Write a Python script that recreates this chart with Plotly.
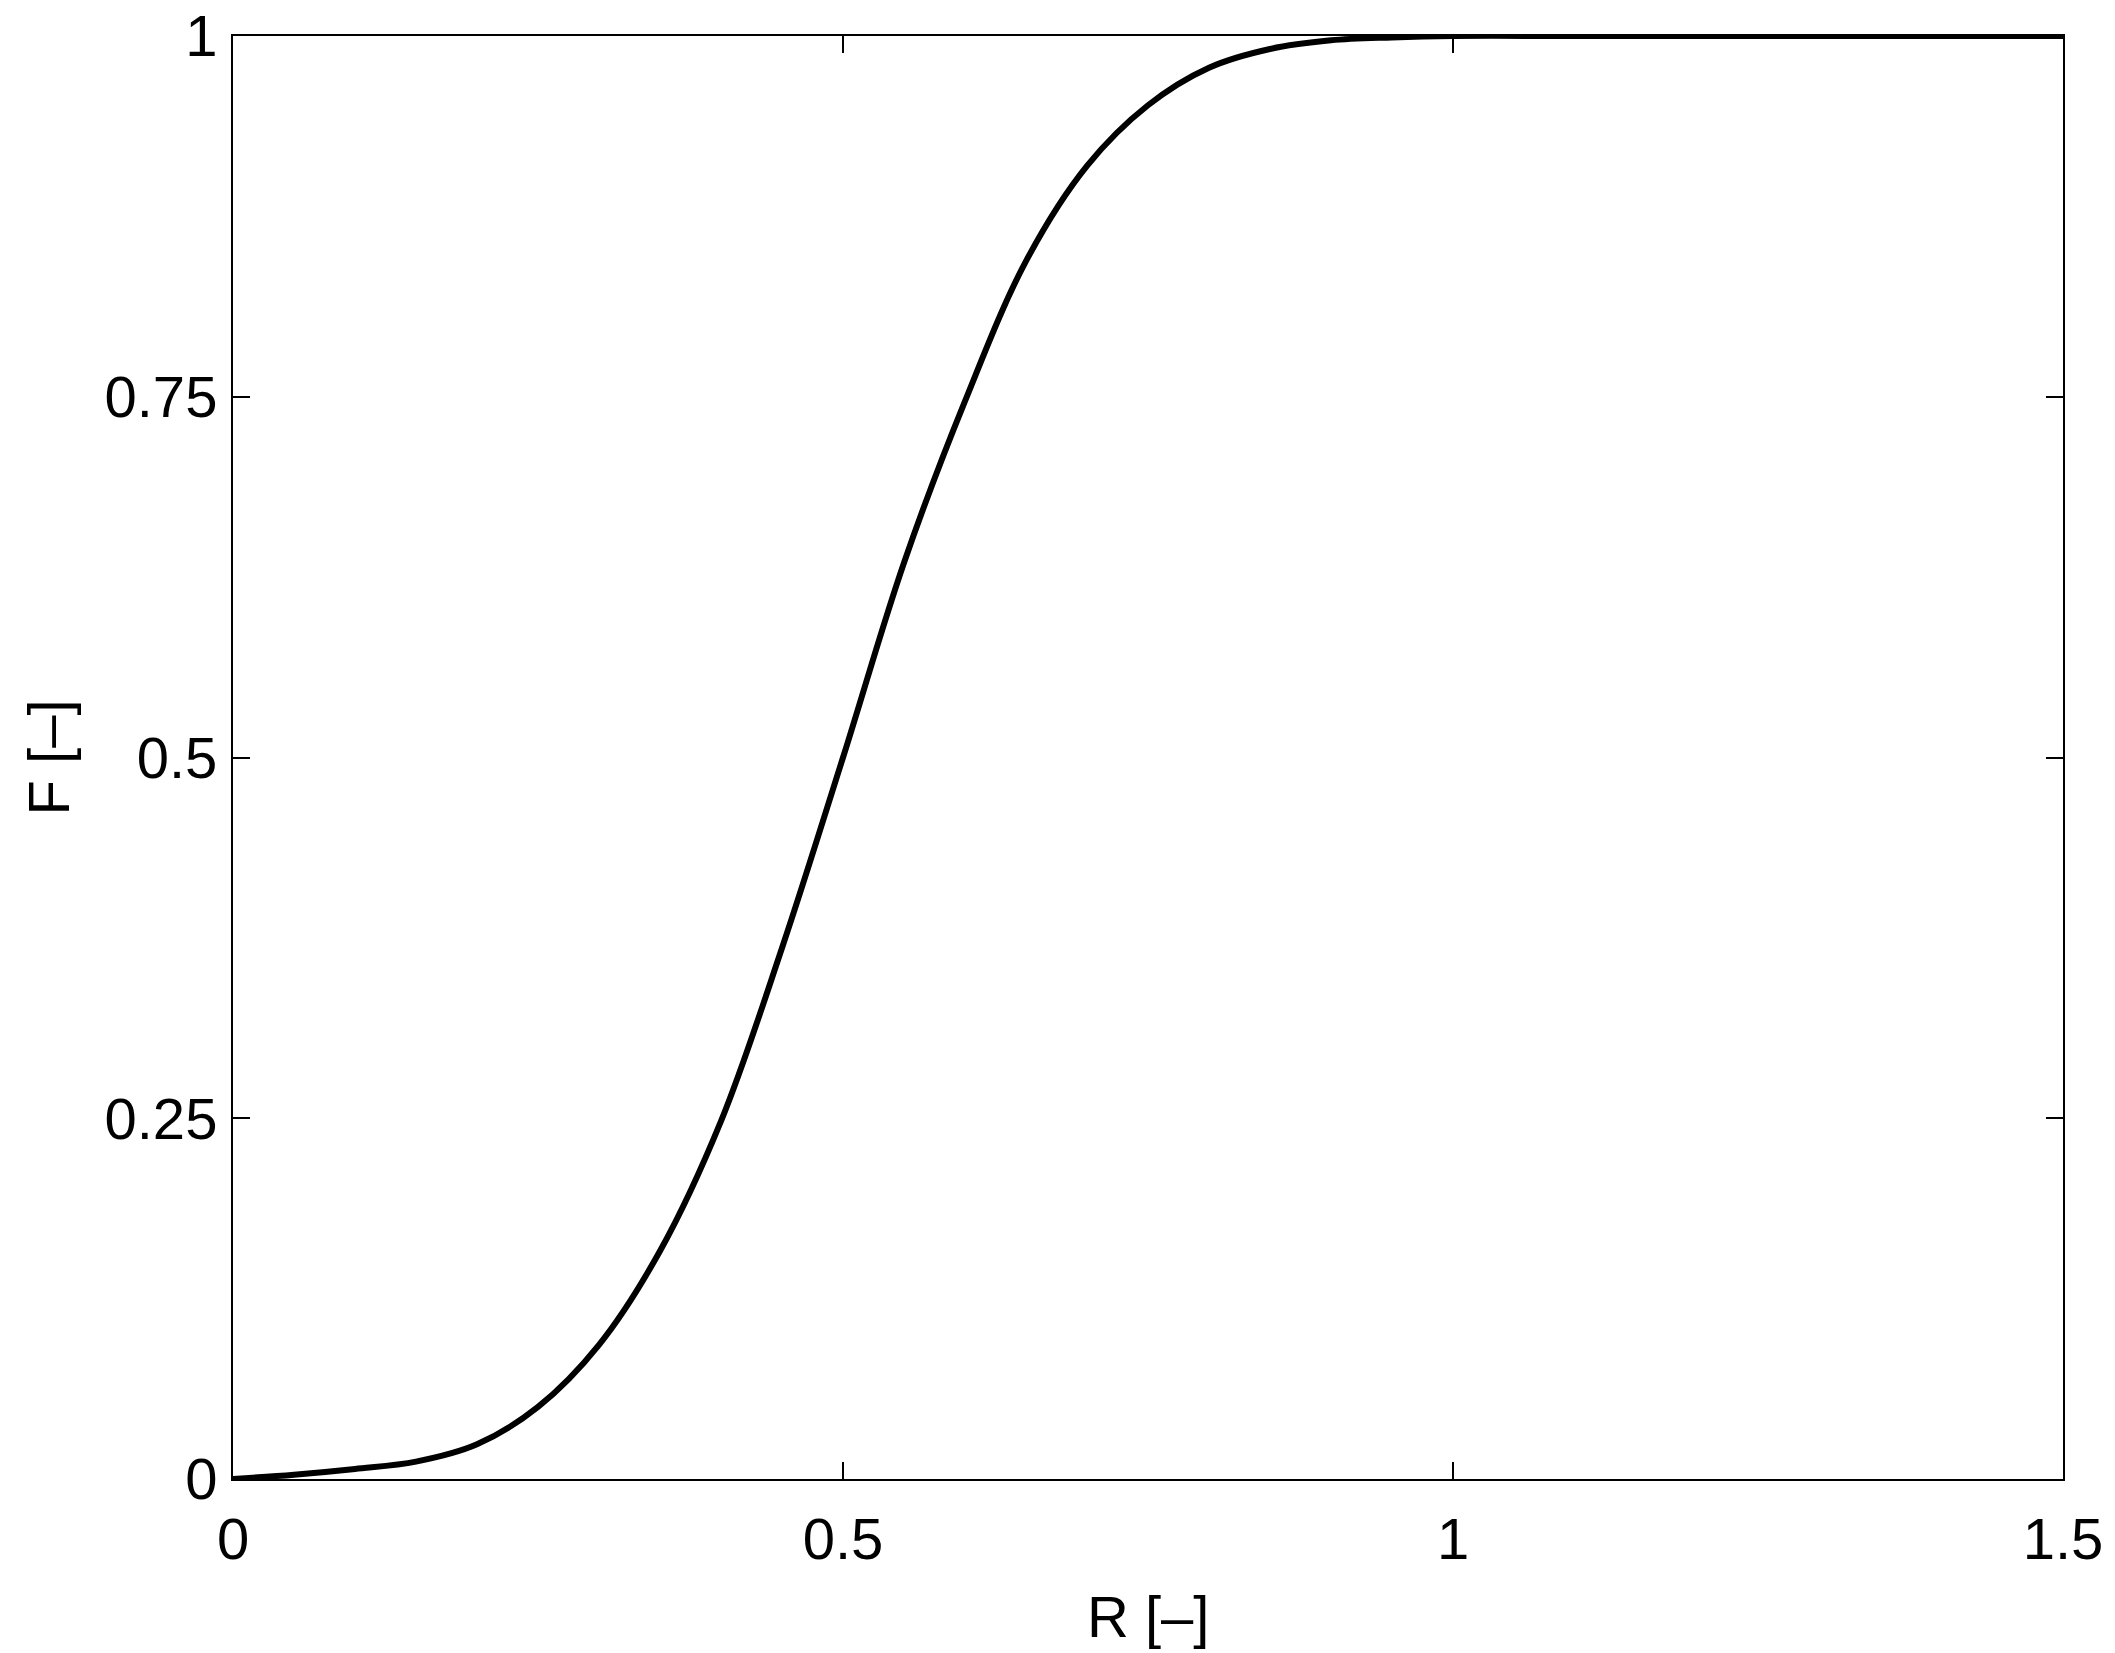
import plotly.graph_objects as go

R_vals = [0.0, 0.05, 0.10, 0.15, 0.20, 0.25, 0.30, 0.35, 0.40, 0.45,
          0.50, 0.55, 0.60, 0.65, 0.70, 0.75, 0.80, 0.85, 0.90, 0.95,
          1.0, 1.1, 1.2, 1.3, 1.4, 1.5]
F_vals = [0.0, 0.003, 0.007, 0.012, 0.024, 0.050, 0.093, 0.158, 0.248, 0.368,
          0.500, 0.635, 0.747, 0.844, 0.910, 0.952, 0.978, 0.991, 0.997, 0.999,
          1.0, 1.0, 1.0, 1.0, 1.0, 1.0]

x_ticks = [0, 0.5, 1, 1.5]
x_tick_labels = ["0", "0.5", "1", "1.5"]
y_ticks = [0, 0.25, 0.5, 0.75, 1]
y_tick_labels = ["0", "0.25", "0.5", "0.75", "1"]

FONT = "Liberation Sans, Arial, Helvetica, sans-serif"
FS = 58

fig = go.Figure()
fig.add_trace(go.Scatter(x=R_vals, y=F_vals, mode="lines",
                         line=dict(color="black", width=6, shape="spline", smoothing=1.0),
                         showlegend=False, hoverinfo="skip"))

axis_common = dict(showline=True, linecolor="black", linewidth=2, mirror="ticks",
                   ticks="inside", ticklen=17, tickwidth=2, tickcolor="black",
                   showgrid=False, zeroline=False, automargin=False,
                   ticklabeloverflow="allow",
                   tickfont=dict(family=FONT, size=FS, color="black"))

fig.update_xaxes(range=[0, 1.5], tickvals=x_ticks, ticktext=x_tick_labels,
                 ticklabelstandoff=8, **axis_common)
fig.update_yaxes(range=[0, 1], tickvals=y_ticks, ticktext=y_tick_labels,
                 title=dict(text="F [–]", font=dict(family=FONT, size=FS, color="black"), standoff=16),
                 ticklabelstandoff=2, **axis_common)

fig.add_annotation(text="R [–]", xref="paper", yref="paper", x=0.5, y=0,
                   xanchor="center", yanchor="bottom", yshift=-172, showarrow=False,
                   font=dict(family=FONT, size=FS, color="black"))

fig.update_layout(width=2115, height=1653,
                  margin=dict(l=225, r=60, t=28, b=182),
                  paper_bgcolor="white", plot_bgcolor="white",
                  font=dict(family=FONT, color="black"))

fig.write_html("out.html")
